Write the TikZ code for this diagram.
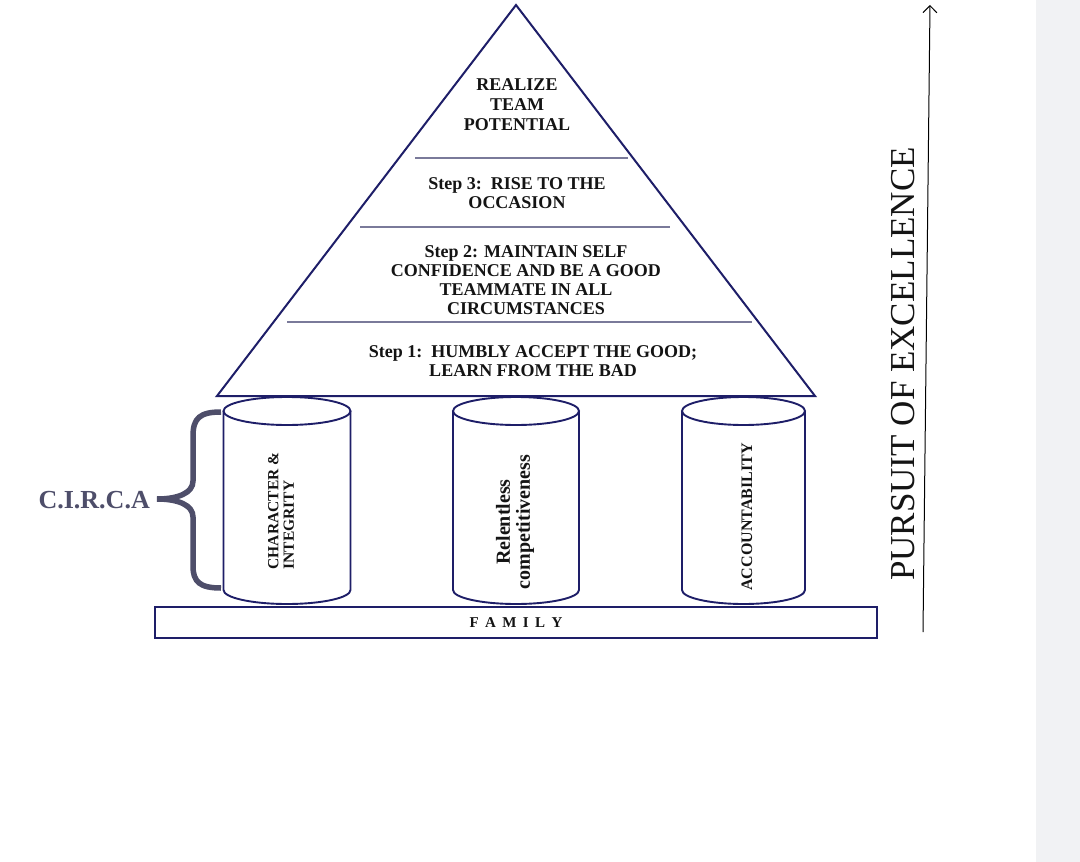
\documentclass[tikz,border=0pt]{standalone}
\usepackage{fontspec}
\setmainfont{Liberation Serif}
\usetikzlibrary{arrows.meta}
\definecolor{navy}{HTML}{1E1E68}
\definecolor{divider}{HTML}{7A7A9A}
\definecolor{bracec}{HTML}{4E4E6A}
\definecolor{stripgray}{HTML}{F1F2F4}
\definecolor{txt}{HTML}{141414}
\tikzset{
  pyr/.style={draw=navy, line width=2pt, line join=miter},
  divline/.style={draw=divider, line width=1.2pt},
  cylline/.style={draw=navy, line width=1.9pt},
  ptext/.style={align=center, text=txt, font=\bfseries\fontsize{18}{19.5}\selectfont, inner sep=0pt},
  clabel/.style={rotate=90, text=txt, inner sep=0pt},
  basebox/.style={draw=navy, line width=1.9pt, minimum width=722pt, minimum height=31pt, inner sep=0pt},
}
\begin{document}
\begin{tikzpicture}[x=1pt, y=-1pt]
\useasboundingbox (0,0) rectangle (1080,862);
\fill[white] (0,0) rectangle (1080,862);
\fill[stripgray] (1036,0) rectangle (1080,862);

% pyramid
\coordinate (apex) at (516,5);
\coordinate (bl) at (217,396);
\coordinate (br) at (815,396);
\draw[pyr] (apex) -- (bl) -- (br) -- cycle;

\coordinate (d1a) at (415,158); \coordinate (d1b) at (628,158);
\coordinate (d2a) at (360,227); \coordinate (d2b) at (670,227);
\coordinate (d3a) at (287,322); \coordinate (d3b) at (752,322);
\draw[divline] (d1a) -- (d1b);
\draw[divline] (d2a) -- (d2b);
\draw[divline] (d3a) -- (d3b);

\node[ptext, font=\bfseries\fontsize{18}{20}\selectfont] (top) at (517,105) {REALIZE\\TEAM\\POTENTIAL};
\node[ptext] (s3) at (517,193) {Step 3:\ \ RISE TO THE\\OCCASION};
\node[ptext, font=\bfseries\fontsize{18}{18.8}\selectfont] (s2) at (526,280) {Step 2: MAINTAIN SELF\\CONFIDENCE AND BE A GOOD\\TEAMMATE IN ALL\\CIRCUMSTANCES};
\node[ptext, font=\bfseries\fontsize{18}{18.5}\selectfont] (s1) at (533,361) {Step 1:\ \ HUMBLY ACCEPT THE GOOD;\\LEARN FROM THE BAD};

% cylinders
\foreach \cx/\hw in {287/63.5, 516/63, 743.5/61.5} {
  \draw[cylline, fill=white] ({\cx-\hw},411) -- ({\cx-\hw},590)
     .. controls ({\cx-\hw},597.7) and ({\cx-0.5523*\hw},604) .. (\cx,604)
     .. controls ({\cx+0.5523*\hw},604) and ({\cx+\hw},597.7) .. ({\cx+\hw},590)
     -- ({\cx+\hw},411);
  \draw[cylline, fill=white] (\cx,411) ellipse [x radius=\hw, y radius=14];
}
\node[clabel, align=left, font=\bfseries\fontsize{15.5}{15.5}\selectfont] (c1) at (281,511) {CHARACTER \&\\INTEGRITY};
\node[clabel, align=center, font=\bfseries\fontsize{20}{20}\selectfont] (c2) at (515,522) {Relentless\\competitiveness};
\node[clabel, font=\bfseries\fontsize{16}{16}\selectfont] (c3) at (747,517) {ACCOUNTABILITY};

% base
\node[basebox] (family) at (516,622.5) {};
\node[text=txt, inner sep=0pt, font=\bfseries\fontsize{15}{15}\selectfont] (famtxt) at (family.center) {F\kern6.4pt A\kern6.4pt M\kern6.4pt I\kern6.4pt L\kern6.4pt Y};

% brace
\coordinate (brt) at (221,412);
\coordinate (brtip) at (157,499);
\coordinate (brb) at (221,588);
\draw[draw=bracec, line width=5.5pt]
  (brt) .. controls (200,412) and (193,418) .. (193,436) -- (193,481)
  .. controls (193,493) and (178,499) .. (brtip)
  .. controls (178,499) and (193,505) .. (193,517) -- (193,566)
  .. controls (193,582) and (200,588) .. (brb);
\node[text=bracec, inner sep=0pt, font=\bfseries\fontsize{26}{26}\selectfont, anchor=east] (circa) at (150,500) {C.I.R.C.A};

% arrow
\coordinate (pb) at (923,632);
\coordinate (ptop) at (930,5);
\draw[line width=1pt, -{Straight Barb[length=7pt,width=14pt]}] (pb) -- (ptop);
\node[clabel, font=\fontsize{35}{35}\selectfont] (pursuit) at (903,364) {PURSUIT OF EXCELLENCE};
\end{tikzpicture}
\end{document}
